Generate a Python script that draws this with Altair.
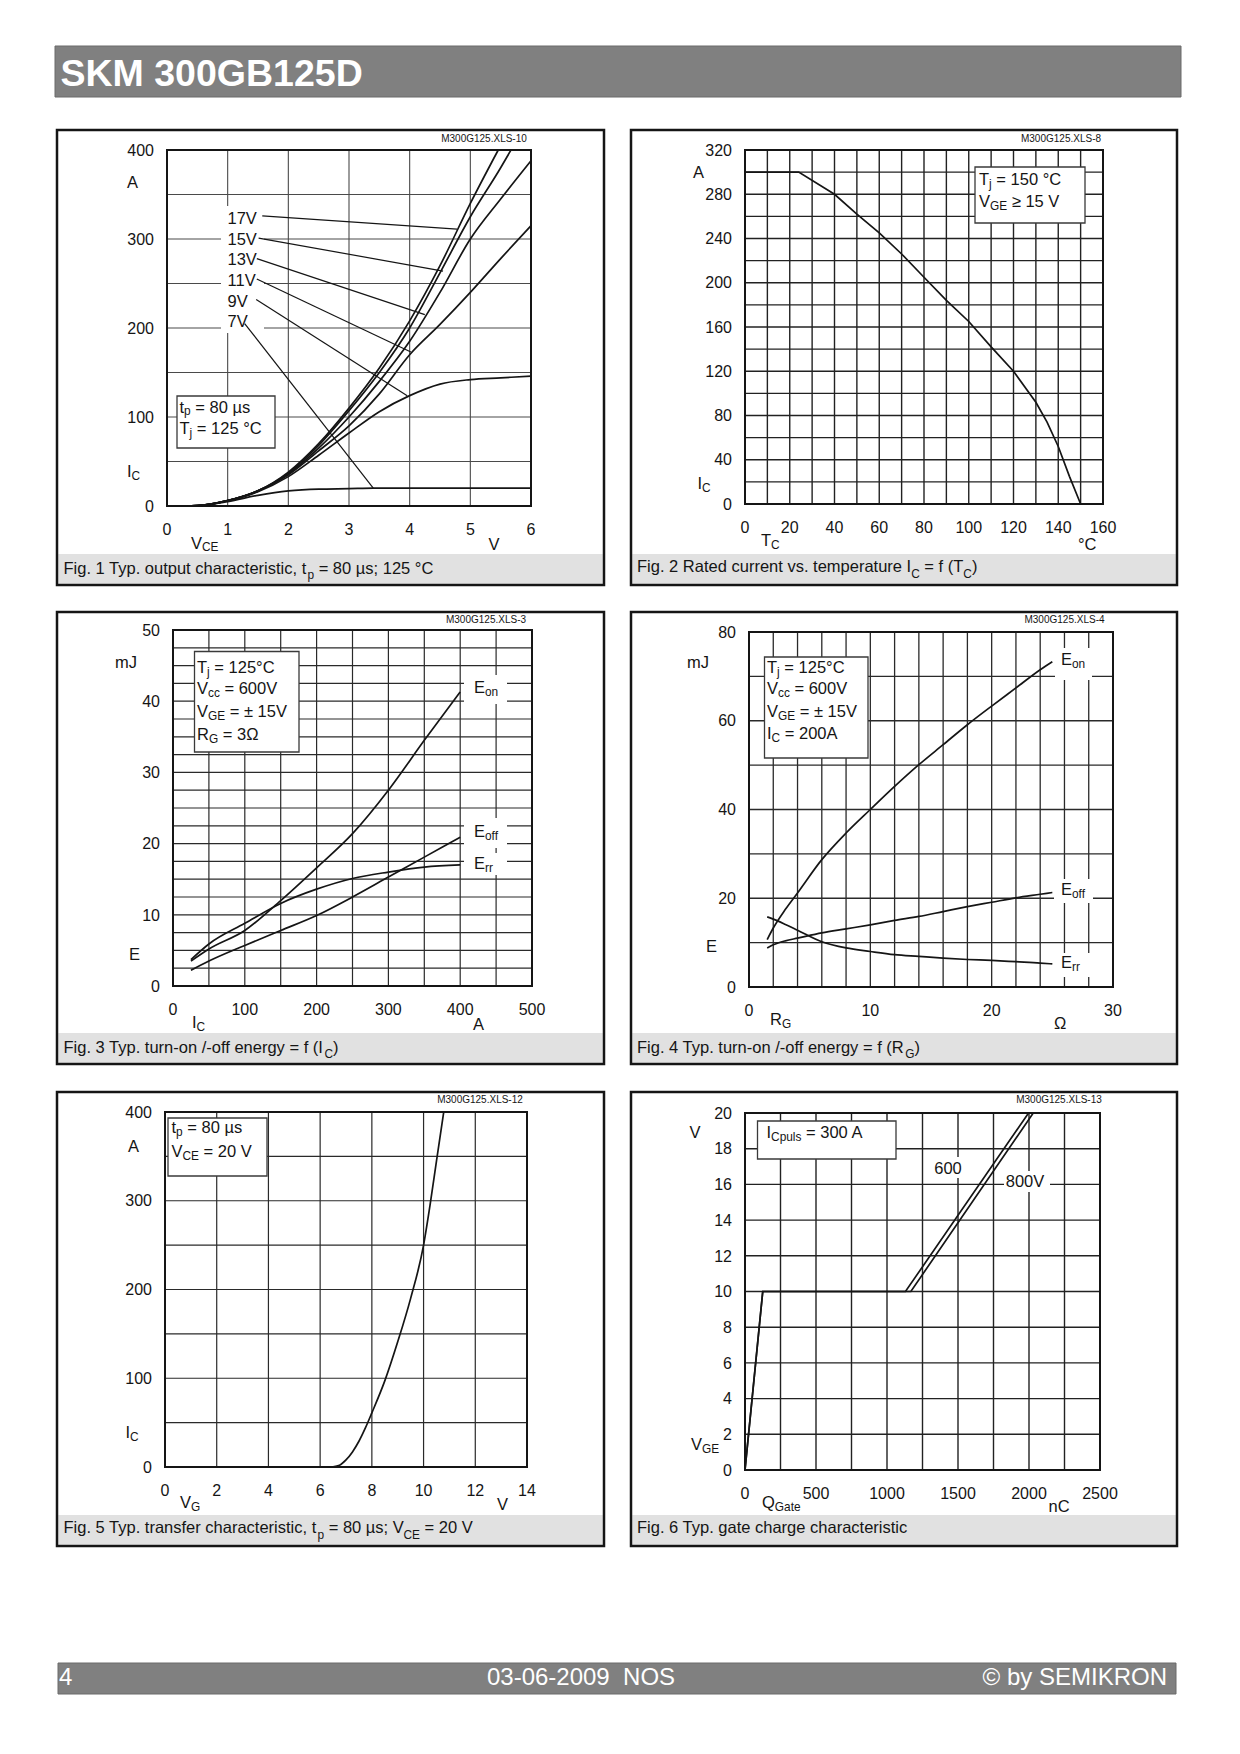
import re
import altair as alt
import pandas as pd

FONT = "Liberation Sans"
INK = "#151515"

# ===================== DATA =====================
# Fig. 1  output characteristic  (V_CE [V] -> I_C [A]) for V_GE curves
f1_vce_17 = [0, 0.5, 1, 1.5, 2, 2.5, 3, 3.5, 4, 4.5, 5, 5.46]
f1_ic_17 = [0, 0.5, 6, 17, 38, 70, 110, 155, 208, 270, 340, 400]
f1_vce_15 = [0, 0.5, 1, 1.5, 2, 2.5, 3, 3.5, 4, 4.5, 5, 5.5, 5.67]
f1_ic_15 = [0, 0.5, 6, 17, 37, 68, 107, 150, 200, 262, 325, 380, 400]
f1_vce_13 = [0, 0.5, 1, 1.5, 2, 2.5, 3, 3.5, 4, 4.5, 5, 5.5, 6]
f1_ic_13 = [0, 0.5, 6, 17, 36, 65, 100, 140, 185, 240, 300, 345, 388]
f1_vce_11 = [0, 0.5, 1, 1.5, 2, 2.5, 3, 3.5, 4, 4.5, 5, 5.5, 6]
f1_ic_11 = [0, 0.5, 6, 17, 35, 62, 90, 126, 170, 204, 240, 278, 315]
f1_vce_9 = [0, 0.5, 1, 1.5, 2, 2.5, 3, 3.5, 4, 4.5, 5, 5.5, 6]
f1_ic_9 = [0, 0.5, 6, 16, 33, 57, 82, 106, 124, 137, 142, 144, 146]
f1_vce_7 = [0, 0.5, 1, 1.5, 2, 2.5, 3, 3.4, 4, 5, 6]
f1_ic_7 = [0, 0.5, 5, 12, 17, 19, 19.5, 20, 20, 20, 20]
f1_labels = ["17V", "15V", "13V", "11V", "9V", "7V"]
f1_lead_x1 = [1.57, 1.51, 1.48, 1.48, 1.47, 1.28]
f1_lead_y1 = [326, 301, 278, 255, 232, 205]
f1_lead_x2 = [4.78, 4.55, 4.25, 4.02, 3.96, 3.40]
f1_lead_y2 = [311, 264, 215, 173, 124, 20]

# Fig. 2  rated current vs case temperature
f2_tc = [0, 24, 40, 50, 60, 70, 80, 90, 100, 110, 120, 130, 135, 140, 145, 150]
f2_ic = [300, 300, 280, 262, 245, 226, 205, 184, 165, 142, 120, 92, 74, 52, 25, 0]

# Fig. 3  switching energy vs I_C
f3_ic = [25, 50, 100, 150, 200, 250, 300, 350, 400]
f3_eon = [3.5, 5.2, 7.8, 12.0, 16.6, 21.4, 27.5, 34.5, 41.3]
f3_eoff = [2.2, 3.5, 5.7, 7.8, 9.9, 12.5, 15.3, 18.1, 20.9]
f3_err = [3.7, 5.9, 8.8, 11.6, 13.6, 15.1, 16.0, 16.7, 17.0]

# Fig. 4  switching energy vs R_G
f4_rg = [1.5, 2, 3, 4, 6, 8, 10, 12, 14, 16, 18, 20, 22, 24, 25]
f4_eon = [10.7, 13.3, 17.5, 21.2, 28.7, 34.7, 40.0, 45.2, 50.1, 54.6, 59.1, 63.3, 67.4, 71.5, 73.3]
f4_eoff = [8.8, 9.5, 10.4, 11.0, 12.2, 13.1, 14.0, 15.0, 15.9, 17.0, 18.1, 19.1, 20.1, 20.9, 21.3]
f4_err = [15.8, 15.3, 14.1, 12.8, 10.2, 8.8, 8.0, 7.3, 6.9, 6.5, 6.2, 6.0, 5.7, 5.4, 5.2]

# Fig. 5  transfer characteristic
f5_vg = [6.3, 6.5, 6.75, 7, 7.25, 7.5, 7.75, 8, 8.5, 9, 9.5, 10, 10.25, 10.5, 10.78]
f5_ic = [0, 0.3, 2, 8, 17, 29, 44, 61, 97, 141, 190, 250, 295, 345, 400]

# Fig. 6  gate charge
f6_q600 = [0, 125, 1130, 1997]
f6_v600 = [0, 10, 10, 20]
f6_q800 = [0, 125, 1168, 2030]
f6_v800 = [0, 10, 10, 20]

# ===================== text helpers =====================
W = {c: 556 for c in "0123456789"}
W.update({' ': 278, '\u00a0': 278, '.': 278, ',': 278, ';': 278, ':': 278, '-': 333, '/': 278,
          '(': 333, ')': 333, '=': 584, '±': 584, '≥': 549, '°': 400, 'µ': 556, 'Ω': 768, '©': 737})
W.update(dict(zip("ABCDEFGHIJKLMNOPQRSTUVWXYZ",
                  [667, 667, 722, 722, 667, 611, 778, 722, 278, 500, 667, 556, 833, 722, 778, 667,
                   778, 722, 667, 611, 722, 667, 944, 667, 667, 611])))
W.update(dict(zip("abcdefghijklmnopqrstuvwxyz",
                  [556, 556, 500, 556, 556, 278, 556, 556, 222, 222, 500, 222, 833, 556, 556, 556,
                   556, 333, 500, 278, 556, 500, 722, 500, 500, 500])))

OFF = 8  # page margin: canvas coordinate = page coordinate - 8


def C(v):
    return v - OFF


def tw(s, fs):
    return sum(W.get(c, 556) for c in s) * fs / 1000.0


def parse(s):
    out = []
    for m in re.finditer(r"_\{([^}]*)\}|([^_]+)", s):
        if m.group(1) is not None:
            out.append((m.group(1), True))
        else:
            out.append((m.group(2), False))
    return out


def rich(rows, s, x, y, fs, anchor="left", sub_dy=0.17):
    parts = parse(s)
    k = 0.72
    total = sum(tw(t, fs * k if sb else fs) for t, sb in parts)
    if anchor == "center":
        x -= total / 2
    elif anchor == "right":
        x -= total
    for t, sb in parts:
        f = fs * k if sb else fs
        lead = len(t) - len(t.lstrip(" "))
        x += tw(t[:lead], f)
        body = t.strip(" ")
        if body:
            rows.append({"tx": body, "px": C(x), "py": C(y + (fs * sub_dy if sb else 0)), "fs": f})
        x += tw(t[lead:], f)


def series_df(items):
    rows = []
    for name, xs, ys in items:
        for i, (a, b) in enumerate(zip(xs, ys)):
            rows.append({"s": name, "i": i, "x": a, "y": b})
    return pd.DataFrame(rows)


def rect_layer(lst, **kw):
    df = pd.DataFrame([{"x1": C(a), "x2": C(c), "y1": C(b), "y2": C(d)} for a, b, c, d in lst])
    return alt.Chart(df).mark_rect(**kw).encode(
        x=alt.X("x1:Q", scale=None, axis=None), x2="x2:Q",
        y=alt.Y("y1:Q", scale=None, axis=None), y2="y2:Q")


def text_layer(rows, **kw):
    return alt.Chart(pd.DataFrame(rows)).mark_text(align="left", baseline="alphabetic", font=FONT, **kw).encode(
        x=alt.X("px:Q", scale=None, axis=None),
        y=alt.Y("py:Q", scale=None, axis=None),
        text="tx:N",
        size=alt.Size("fs:Q", scale=None))


def frange(a, b, s):
    out, v = [], a
    while v <= b + 1e-9:
        out.append(round(v, 4))
        v += s
    return out


def fmt(v):
    return str(int(round(v)))


LAB = 16.5
CAP = 16.5
TICK = 16

leaders = pd.DataFrame({"x": f1_lead_x1, "y": f1_lead_y1, "x2": f1_lead_x2, "y2": f1_lead_y2})

P1 = dict(origin=(167, 150), size=(364, 356), frame=(57, 130, 604, 585), interp="monotone",
          xdom=[0, 6], ydom=[0, 400], xgrid=frange(0, 6, 1), xstep=1, ygrid=frange(0, 400, 50), ystep=100,
          gcol="#4a4a4a", gw=1.1,
          series=[("17", f1_vce_17, f1_ic_17), ("15", f1_vce_15, f1_ic_15), ("13", f1_vce_13, f1_ic_13),
                  ("11", f1_vce_11, f1_ic_11), ("9", f1_vce_9, f1_ic_9), ("7", f1_vce_7, f1_ic_7)],
          leaders=leaders, box=(177, 396, 275, 448), white=[(221, 206, 264, 333)],
          texts=[("M300G125.XLS-10", 484, 141.5, 10, "center"), ("A", 127, 188, LAB), ("I_{C}", 127, 477, LAB),
                 ("V_{CE}", 191, 548.5, LAB), ("V", 488.5, 549.5, LAB),
                 ("t_{p} = 80 µs", 179.5, 412.5, LAB), ("T_{j} = 125 °C", 179.5, 434, LAB)]
          + [(lab, 227.5, yy, LAB) for lab, yy in zip(f1_labels, [224, 245, 265, 285.5, 306.5, 327])],
          caption=("Fig. 1 Typ. output characteristic, t_{p} = 80 µs; 125 °C", 63.5, 573.5))

P2 = dict(origin=(745, 150), size=(358, 354), frame=(631, 130, 1177, 585), interp="linear",
          xdom=[0, 160], ydom=[0, 320], xgrid=frange(0, 160, 10), xstep=20, ygrid=frange(0, 320, 20), ystep=40,
          gcol="#222222", gw=1.4,
          series=[("ic", f2_tc, f2_ic)], box=(975, 167, 1085, 223),
          texts=[("M300G125.XLS-8", 1061, 141.5, 10, "center"), ("A", 693, 178, LAB), ("I_{C}", 697.5, 489, LAB),
                 ("T_{C}", 761, 546, LAB), ("°C", 1078, 550, LAB),
                 ("T_{j} = 150 °C", 979, 185, LAB), ("V_{GE} ≥ 15 V", 979, 207, LAB)],
          caption=("Fig. 2 Rated current vs. temperature I_{C} = f (T_{C})", 637, 572))

P3 = dict(origin=(173, 630), size=(359, 356), frame=(57, 612, 604, 1064), interp="monotone",
          xdom=[0, 500], ydom=[0, 50], xgrid=frange(0, 500, 50), xstep=100, ygrid=frange(0, 50, 2.5), ystep=10,
          gcol="#2a2a2a", gw=1.2,
          series=[("on", f3_ic, f3_eon), ("off", f3_ic, f3_eoff), ("rr", f3_ic, f3_err)],
          box=(194.5, 651.5, 299, 752),
          white=[(464, 675, 507, 704), (464, 818, 507, 848), (464, 853, 507, 875)],
          texts=[("M300G125.XLS-3", 486, 622.5, 10, "center"), ("mJ", 115, 668, LAB), ("E", 129, 960, LAB),
                 ("I_{C}", 192, 1028, LAB), ("A", 473, 1030, LAB),
                 ("T_{j} = 125°C", 197, 672.7, LAB), ("V_{cc} = 600V", 197, 694, LAB),
                 ("V_{GE} = ± 15V", 197, 716.7, LAB), ("R_{G} = 3Ω", 197, 740, LAB),
                 ("E_{on}", 474, 693, LAB), ("E_{off}", 474, 837, LAB), ("E_{rr}", 474, 869, LAB)],
          caption=("Fig. 3 Typ. turn-on /-off energy = f (I_{C})", 63.5, 1052.5))

P4 = dict(origin=(749, 632), size=(364, 355), frame=(631, 612, 1177, 1064), interp="monotone",
          xdom=[0, 30], ydom=[0, 80], xgrid=frange(0, 30, 2), xstep=10, ygrid=frange(0, 80, 10), ystep=20,
          gcol="#2a2a2a", gw=1.3,
          series=[("on", f4_rg, f4_eon), ("off", f4_rg, f4_eoff), ("rr", f4_rg, f4_err)],
          box=(764.5, 657, 868, 758),
          white=[(1055, 648, 1092, 680), (1054, 879, 1093, 903), (1055, 953, 1092, 977)],
          texts=[("M300G125.XLS-4", 1064.5, 622.5, 10, "center"), ("mJ", 687, 668, LAB), ("E", 706, 952, LAB),
                 ("R_{G}", 770, 1025, LAB), ("Ω", 1054, 1029, LAB),
                 ("T_{j} = 125°C", 767, 672.7, LAB), ("V_{cc} = 600V", 767, 694, LAB),
                 ("V_{GE} = ± 15V", 767, 716.7, LAB), ("I_{C} = 200A", 767, 739, LAB),
                 ("E_{on}", 1061, 665, LAB), ("E_{off}", 1061, 895, LAB), ("E_{rr}", 1061, 968, LAB)],
          caption=("Fig. 4 Typ. turn-on /-off energy = f (R_{G})", 637, 1052.5))

P5 = dict(origin=(165, 1112), size=(362, 355), frame=(57, 1092, 604, 1546), interp="monotone",
          xdom=[0, 14], ydom=[0, 400], xgrid=frange(0, 14, 2), xstep=2, ygrid=frange(0, 400, 50), ystep=100,
          gcol="#2a2a2a", gw=1.2,
          series=[("tr", f5_vg, f5_ic)], box=(168, 1118, 267, 1176),
          texts=[("M300G125.XLS-12", 480, 1103, 10, "center"), ("A", 128, 1152, LAB), ("I_{C}", 125.5, 1438, LAB),
                 ("V_{G}", 180, 1508, LAB), ("V", 497, 1510, LAB),
                 ("t_{p} = 80 µs", 171.5, 1133, LAB), ("V_{CE} = 20 V", 171.5, 1157, LAB)],
          caption=("Fig. 5 Typ. transfer characteristic, t_{p} = 80 µs; V_{CE} = 20 V", 63.5, 1533))

P6 = dict(origin=(745, 1113), size=(355, 357), frame=(631, 1092, 1177, 1546), interp="linear",
          xdom=[0, 2500], ydom=[0, 20], xgrid=frange(0, 2500, 250), xstep=500, ygrid=frange(0, 20, 2), ystep=2,
          gcol="#222222", gw=1.4,
          series=[("600", f6_q600, f6_v600), ("800", f6_q800, f6_v800)], box=(757.5, 1121, 896, 1159),
          white=[(932, 1157, 963, 1178), (1004, 1171, 1050, 1192)],
          texts=[("M300G125.XLS-13", 1059, 1103, 10, "center"), ("V", 689.5, 1138, LAB), ("V_{GE}", 691, 1450, LAB),
                 ("Q_{Gate}", 762, 1508, LAB), ("nC", 1048.5, 1512, LAB),
                 ("I_{Cpuls} = 300 A", 766.5, 1138, LAB),
                 ("600", 948, 1174, LAB, "center"), ("800V", 1025, 1187, LAB, "center")],
          caption=("Fig. 6 Typ. gate charge characteristic", 637, 1533))

PANELS = [P1, P2, P3, P4, P5, P6]

# ===================== build layers =====================
frames, bands, whites, boxes, borders = [], [], [], [], []
grid_layers, line_layers, tick_layers = [], [], []
dark_rows, white_rows = [], []

for P in PANELS:
    ox, oy = P["origin"]
    w, h = P["size"]
    fl, ft, fr, fb = P["frame"]
    frames.append((fl, ft, fr, fb))
    bands.append((fl + 1.25, fb - 31, fr - 1.25, fb - 1.25))
    whites += P.get("white", [])
    boxes.append(P["box"])
    borders.append((ox, oy, ox + w, oy + h))

    xs = alt.Scale(domain=P["xdom"], range=[C(ox), C(ox + w)], nice=False, zero=False)
    ys = alt.Scale(domain=P["ydom"], range=[C(oy + h), C(oy)], nice=False, zero=False)

    grid_layers.append(alt.Chart(pd.DataFrame({"g": P["xgrid"]})).mark_rule(
        color=P["gcol"], strokeWidth=P["gw"]).encode(
        x=alt.X("g:Q", scale=xs, axis=None), y=alt.value(C(oy)), y2=alt.value(C(oy + h))))
    grid_layers.append(alt.Chart(pd.DataFrame({"g": P["ygrid"]})).mark_rule(
        color=P["gcol"], strokeWidth=P["gw"]).encode(
        y=alt.Y("g:Q", scale=ys, axis=None), x=alt.value(C(ox)), x2=alt.value(C(ox + w))))

    xl = [v for v in P["xgrid"] if abs(v / P["xstep"] - round(v / P["xstep"])) < 1e-6]
    yl = [v for v in P["ygrid"] if abs(v / P["ystep"] - round(v / P["ystep"])) < 1e-6]
    tick_layers.append(alt.Chart(pd.DataFrame({"v": xl, "t": [fmt(v) for v in xl]})).mark_text(
        align="center", baseline="alphabetic", font=FONT, fontSize=TICK, color=INK).encode(
        x=alt.X("v:Q", scale=xs, axis=None), y=alt.value(C(oy + h + 29)), text="t:N"))
    tick_layers.append(alt.Chart(pd.DataFrame({"v": yl, "t": [fmt(v) for v in yl]})).mark_text(
        align="right", baseline="alphabetic", dy=5.7, font=FONT, fontSize=TICK, color=INK).encode(
        y=alt.Y("v:Q", scale=ys, axis=None), x=alt.value(C(ox - 13)), text="t:N"))

    line_layers.append(alt.Chart(series_df(P["series"])).mark_line(
        color=INK, strokeWidth=1.7, interpolate=P["interp"]).encode(
        x=alt.X("x:Q", scale=xs, axis=None), y=alt.Y("y:Q", scale=ys, axis=None),
        detail="s:N", order="i:Q"))
    if "leaders" in P:
        line_layers.append(alt.Chart(P["leaders"]).mark_rule(color=INK, strokeWidth=1.2).encode(
            x=alt.X("x:Q", scale=xs, axis=None), y=alt.Y("y:Q", scale=ys, axis=None),
            x2="x2:Q", y2="y2:Q"))

    for t in P["texts"]:
        s, x, y, fs = t[:4]
        anchor = t[4] if len(t) > 4 else "left"
        rich(dark_rows, s, x, y, fs, anchor)
    rich(dark_rows, P["caption"][0], P["caption"][1], P["caption"][2], CAP, sub_dy=0.34)

# header and footer
hdr_rows, ftr_rows = [], []
rich(hdr_rows, "SKM 300GB125D", 60.5, 85.5, 37.5)
rich(ftr_rows, "4", 59, 1685, 24)
rich(ftr_rows, "03-06-2009 \u00a0NOS", 581, 1685, 24, anchor="center")
rich(ftr_rows, "© by SEMIKRON", 1167, 1685, 24, anchor="right")

layers = (
    [rect_layer([(55, 46, 1181, 97), (58, 1663, 1176, 1694)], fill="#808080", stroke="#6a6a6a", strokeWidth=1),
     rect_layer(bands, fill="#e1e1e1"),
     rect_layer(frames, fillOpacity=0, stroke=INK, strokeWidth=2.5)]
    + grid_layers
    + [rect_layer(whites, fill="white"),
       rect_layer(borders, fillOpacity=0, stroke=INK, strokeWidth=2),
       rect_layer(boxes, fill="white", stroke="#3a3a3a", strokeWidth=1.3)]
    + line_layers
    + tick_layers
    + [text_layer(dark_rows, color=INK),
       text_layer(hdr_rows, color="white", fontWeight="bold"),
       text_layer(ftr_rows, color="white")]
)

chart = alt.layer(*layers).resolve_scale(x="independent", y="independent").properties(
    width=1240 - 2 * OFF, height=1754 - 2 * OFF,
    autosize=alt.AutoSizeParams(type="none"), padding=0
).configure(font=FONT).configure_view(strokeOpacity=0)

chart.save("out.html", embed_options={"renderer": "svg", "actions": False})
